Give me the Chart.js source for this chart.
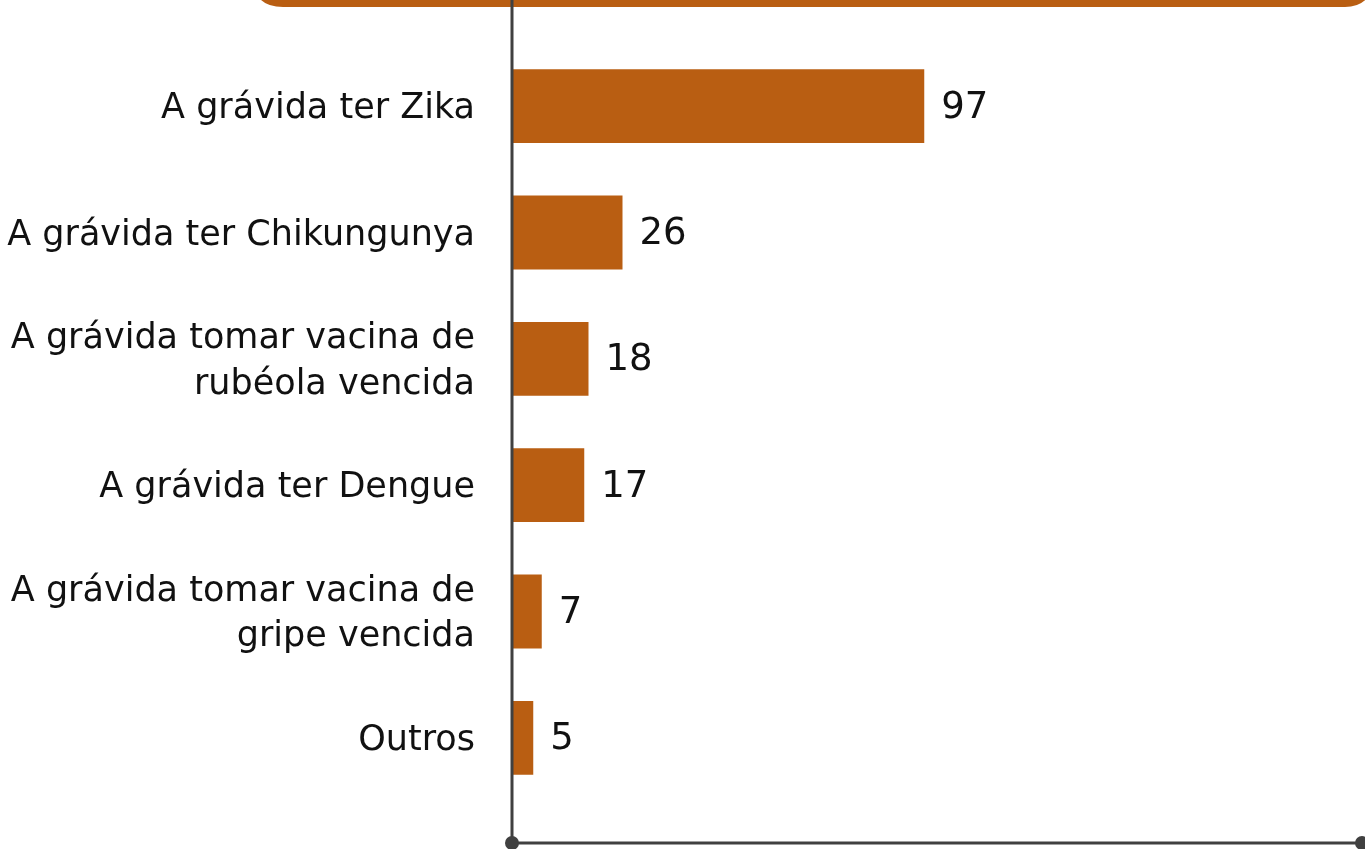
<!DOCTYPE html>
<html>
<head>
<meta charset="utf-8">
<script src="https://cdn.jsdelivr.net/npm/chart.js@4"></script>
<style>
  html, body { margin: 0; padding: 0; background: #ffffff; }
  #wrap { width: 1365px; height: 849px; position: relative; }
</style>
</head>
<body>
<div id="wrap"><canvas id="c" width="1365" height="849"></canvas></div>
<script>
const categories = [
  "A grávida ter Zika",
  "A grávida ter Chikungunya",
  ["A grávida tomar vacina de", "rubéola vencida"],
  "A grávida ter Dengue",
  ["A grávida tomar vacina de", "gripe vencida"],
  "Outros"
];
const values = [97, 26, 18, 17, 7, 5];
const axisMax = 200;

const BAR = '#B95E12';
const AXIS = '#404040';
const FONT = '"DejaVu Sans", sans-serif';

const decor = {
  id: 'decor',
  beforeDraw(chart) {
    const ctx = chart.ctx;
    ctx.save();
    ctx.fillStyle = BAR;
    ctx.beginPath();
    const x0 = 253, y1 = 7, r = 30;
    ctx.moveTo(x0, -30);
    ctx.lineTo(x0, y1 - r);
    ctx.quadraticCurveTo(x0, y1, x0 + r, y1);
    ctx.lineTo(1345, y1);
    ctx.quadraticCurveTo(1365, y1, 1372, -10);
    ctx.lineTo(1372, -30);
    ctx.closePath();
    ctx.fill();
    ctx.restore();
  },
  afterDatasetsDraw(chart) {
    const ctx = chart.ctx;
    const xs = chart.scales.x;
    const xa = xs.getPixelForValue(0);
    const xb = xs.getPixelForValue(axisMax);
    const yb = 843;
    ctx.save();
    ctx.strokeStyle = AXIS;
    ctx.lineWidth = 3;
    ctx.beginPath();
    ctx.moveTo(xa, 0);
    ctx.lineTo(xa, yb);
    ctx.lineTo(xb, yb);
    ctx.stroke();
    ctx.fillStyle = AXIS;
    ctx.beginPath(); ctx.arc(xa, yb, 7, 0, Math.PI * 2); ctx.fill();
    ctx.beginPath(); ctx.arc(xb, yb, 7, 0, Math.PI * 2); ctx.fill();
    const meta = chart.getDatasetMeta(0);
    ctx.fillStyle = '#111111';
    ctx.font = '37px ' + FONT;
    ctx.textAlign = 'left';
    ctx.textBaseline = 'middle';
    meta.data.forEach((el, i) => {
      ctx.fillText(String(values[i]), el.x + 17, el.y + 2);
    });
    ctx.restore();
  }
};

new Chart(document.getElementById('c'), {
  type: 'bar',
  data: {
    labels: categories,
    datasets: [{
      data: values,
      backgroundColor: BAR,
      borderWidth: 0,
      barPercentage: 0.65,
      categoryPercentage: 0.9
    }]
  },
  options: {
    indexAxis: 'y',
    responsive: false,
    animation: false,
    layout: { padding: { top: 43, bottom: 48, right: 3, left: 0 } },
    plugins: { legend: { display: false }, tooltip: { enabled: false } },
    scales: {
      x: {
        min: 0, max: axisMax,
        display: false
      },
      y: {
        grid: { display: false, drawTicks: false },
        border: { display: false },
        ticks: {
          color: '#111111',
          font: { family: FONT, size: 35, lineHeight: 1.29 },
          padding: 37,
          labelOffset: 3
        },
        afterFit(scale) { scale.width = 512; scale.paddingTop = 0; scale.paddingBottom = 0; }
      }
    }
  },
  plugins: [decor]
});
</script>
</body>
</html>
